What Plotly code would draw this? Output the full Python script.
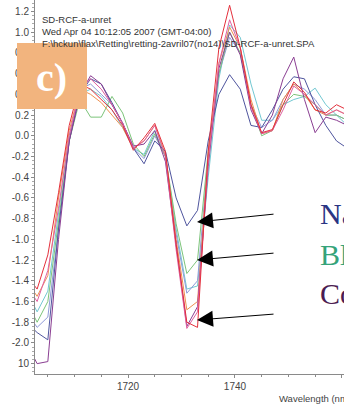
import plotly.graph_objects as go

# ---------------- data ----------------
wavelength = [1701, 1703, 1705, 1707, 1709, 1711, 1713, 1715, 1717, 1719, 1721,
              1723, 1725, 1727, 1729, 1731, 1733, 1735, 1737, 1739, 1741, 1743,
              1745, 1747, 1749, 1751, 1753, 1755, 1757, 1759, 1761]

red = [-1.35, -1.48, -1.15, -0.55, 0.10, 0.50, 0.45, 0.35, 0.25, 0.10, -0.14,
       -0.02, 0.12, -0.15, -1.05, -1.80, -1.85, -0.15, 0.85, 1.26, 0.85, 0.30,
       0.03, 0.06, 0.30, 0.52, 0.42, 0.25, 0.22, 0.30, 0.25]
pink = [-1.45, -1.60, -1.30, -0.70, 0.00, 0.45, 0.55, 0.45, 0.30, 0.12, -0.12,
        -0.05, 0.10, -0.20, -1.10, -1.86, -1.70, -0.25, 0.70, 1.12, 0.85, 0.28,
        0.02, 0.05, 0.25, 0.48, 0.40, 0.30, 0.20, 0.25, 0.20]
purple = [-2.00, -2.20, -2.18, -1.00, -0.05, 0.40, 0.58, 0.50, 0.30, 0.12, -0.10,
          -0.08, 0.05, -0.25, -1.05, -1.84, -1.65, -0.30, 0.65, 1.00, 0.78, 0.25,
          0.02, 0.20, 0.55, 0.76, 0.35, 0.03, 0.18, 0.15, 0.10]
navy = [-1.80, -1.90, -1.97, -0.90, -0.05, 0.40, 0.55, 0.50, 0.32, 0.12, -0.12,
        -0.27, -0.05, -0.15, -0.60, -0.87, -0.72, -0.05, 0.40, 0.59, 0.45, 0.10,
        0.08, 0.25, 0.45, 0.57, 0.55, 0.30, 0.10, -0.05, -0.12]
green = [-1.60, -1.80, -1.60, -0.80, -0.05, 0.35, 0.18, 0.18, 0.38, 0.22, -0.08,
         -0.20, 0.02, -0.20, -0.85, -1.33, -1.20, -0.15, 0.60, 1.00, 0.80, 0.30,
         0.00, 0.05, 0.30, 0.40, 0.38, 0.30, 0.20, 0.20, 0.15]
lavender = [-1.70, -1.85, -1.75, -0.90, -0.05, 0.45, 0.50, 0.40, 0.30, 0.12, -0.12,
            -0.22, 0.00, -0.20, -0.95, -1.52, -1.40, -0.20, 0.60, 0.95, 0.80, 0.30,
            0.08, 0.15, 0.35, 0.50, 0.45, 0.35, 0.20, 0.20, 0.15]
cyan = [-1.50, -1.70, -1.50, -0.75, 0.00, 0.40, 0.45, 0.38, 0.25, 0.08, -0.12,
        -0.18, 0.05, -0.20, -0.90, -1.48, -1.45, -0.40, 0.55, 1.07, 0.95, 0.50,
        0.15, 0.15, 0.30, 0.35, 0.38, 0.46, 0.30, 0.20, 0.10]
orange = [-1.40, -1.55, -1.35, -0.60, 0.05, 0.45, 0.40, 0.32, 0.20, 0.08, -0.12,
          -0.05, 0.10, -0.18, -1.00, -1.68, -1.60, -0.20, 0.70, 1.05, 0.85, 0.35,
          0.02, 0.05, 0.35, 0.50, 0.40, 0.25, 0.20, 0.25, 0.20]

series = [
    ("cyan", cyan, "#72c8d2"),
    ("lavender", lavender, "#8f9ad8"),
    ("green", green, "#7cc47a"),
    ("orange", orange, "#ee9050"),
    ("navy", navy, "#4f559e"),
    ("purple", purple, "#8a3e92"),
    ("pink", pink, "#e060a0"),
    ("red", red, "#e4303c"),
]

y_tickvals = [1.2, 1.0, 0.8, 0.6, 0.4, 0.2, 0.0, -0.2, -0.4, -0.6, -0.8,
              -1.0, -1.2, -1.4, -1.6, -1.8, -2.0, -2.2]
y_ticktext = ["1.2", "1.0", "0.8", "0.6", "0.4", "0.2", "0.0", "-0.2", "-0.4", "-0.6", "-0.8",
              "-1.0", "-1.2", "-1.4", "-1.6", "-1.8", "-2.0", "10"]
x_tickvals = [1720, 1740, 1760]

header_lines = ["SD-RCF-a-unret",
                "Wed Apr 04 10:12:05 2007 (GMT-04:00)",
                "F:\\hckun\\flax\\Retting\\retting-2avril07(no14)\\SD-RCF-a-unret.SPA"]
side_labels = [("Na", "#2a3583"), ("Bl", "#35a37a"), ("Co", "#4b1c52")]

# ---------------- layout helpers ----------------
W, H = 344, 405
L, R, T, B = 35, 0, 0, 31
PW, PH = W - L - R, H - T - B


def px(x):
    return (x - L) / PW


def py(y):
    return (H - B - y) / PH


fig = go.Figure()
for name, vals, col in series:
    fig.add_trace(go.Scatter(x=wavelength, y=vals, mode="lines", name=name,
                             line=dict(color=col, width=1), showlegend=False))

axis_col = "#8a8a8a"
fig.update_layout(
    width=W, height=H,
    margin=dict(l=L, r=R, t=T, b=B, pad=0),
    paper_bgcolor="white", plot_bgcolor="white",
    font=dict(family="Liberation Sans, Arial, sans-serif", color="#333333"),
    xaxis=dict(range=[1702.6, 1760.4], tickvals=x_tickvals,
               ticktext=[str(v) for v in x_tickvals],
               showgrid=False, zeroline=False, showline=True, linecolor=axis_col,
               linewidth=1, ticks="outside", ticklen=3, tickcolor=axis_col,
               tickfont=dict(size=10, color="#444444"),
               minor=dict(dtick=5, tick0=1700, ticks="outside", ticklen=2, tickcolor=axis_col)),
    yaxis=dict(range=[-2.30, 1.311], tickvals=y_tickvals, ticktext=y_ticktext,
               showgrid=False, zeroline=False, showline=True, linecolor=axis_col,
               linewidth=1, ticks="outside", ticklen=3, tickcolor=axis_col,
               tickfont=dict(size=10, color="#444444"),
               minor=dict(dtick=0.04, tick0=0, ticks="outside", ticklen=2, tickcolor="#aaaaaa")),
)

annotations = []
for i, line in enumerate(header_lines):
    annotations.append(dict(x=px(40), y=py(20 + 11.5 * i), xref="paper", yref="paper",
                            text=line, showarrow=False, xanchor="left", yanchor="middle",
                            font=dict(size=9.5, color="#333333")))

annotations.append(dict(x=px(277), y=py(398), xref="paper", yref="paper",
                        text="Wavelength (nm)", showarrow=False, xanchor="left",
                        yanchor="middle", font=dict(size=9.5, color="#444444")))

# arrows
for tip_y, tail_y in [(222, 214), (260, 253), (320, 314)]:
    annotations.append(dict(x=px(197), y=py(tip_y), xref="paper", yref="paper",
                            ax=78, ay=tail_y - tip_y, axref="pixel", ayref="pixel",
                            text="", showarrow=True, arrowhead=2, arrowsize=3.2,
                            arrowwidth=1, arrowcolor="black", standoff=0))

for (txt, col), yy in zip(side_labels, [213, 254, 293]):
    annotations.append(dict(x=px(318), y=py(yy), xref="paper", yref="paper",
                            text=txt, showarrow=False, xanchor="left", yanchor="middle",
                            font=dict(size=30, color=col,
                                      family="Liberation Serif, Times New Roman, serif")))

# orange label box
fig.add_shape(type="rect", xref="paper", yref="paper",
              x0=px(17), x1=px(87), y0=py(109), y1=py(43),
              fillcolor="#f2b47e", line=dict(width=0), layer="above")
annotations.append(dict(x=px(51), y=py(78), xref="paper", yref="paper",
                        text="<b>c)</b>", showarrow=False, xanchor="center", yanchor="middle",
                        font=dict(size=40, color="white",
                                  family="Liberation Serif, Times New Roman, serif")))

fig.update_layout(annotations=annotations)
fig.write_html("out.html",
               config={"displayModeBar": False},
               post_script="document.body.style.margin='0';document.body.style.padding='0';")
